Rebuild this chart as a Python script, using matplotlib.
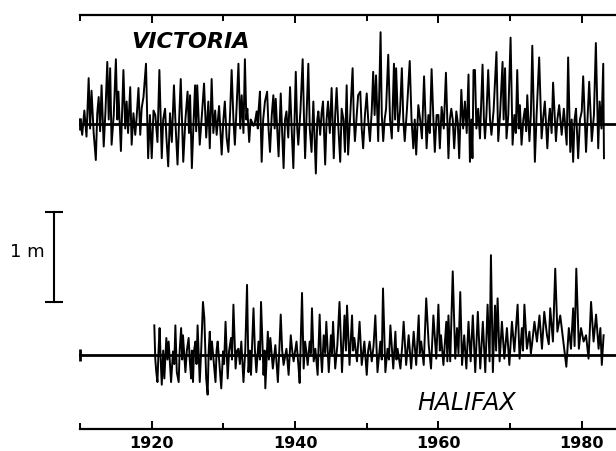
import matplotlib
matplotlib.use("Agg")
import matplotlib.pyplot as plt
import numpy as np

# monthly-ish sea level residuals (m)
vic_year = [
    1910.0, 1910.3, 1910.6, 1910.9, 1911.2, 1911.4, 1911.6, 1911.9, 1912.2, 1912.4,
    1912.6, 1912.8, 1913.0, 1913.3, 1913.55, 1913.8, 1914.0, 1914.2, 1914.4, 1914.7,
    1915.0, 1915.2, 1915.35, 1915.7, 1916.05, 1916.3, 1916.5, 1916.7, 1917.0, 1917.2,
    1917.45, 1917.7, 1917.9, 1918.15, 1918.4, 1918.6, 1918.85, 1919.2, 1919.5, 1919.75,
    1920.0, 1920.25, 1920.5, 1920.8, 1921.07, 1921.4, 1921.6, 1921.86, 1922.05, 1922.3,
    1922.55, 1922.8, 1923.1, 1923.35, 1923.6, 1923.85, 1924.05, 1924.4, 1924.7,
    1925.0, 1925.2, 1925.35, 1925.6, 1925.85, 1926.05, 1926.2, 1926.35, 1926.7, 1927.0,
    1927.3, 1927.6, 1927.9, 1928.1, 1928.36, 1928.6, 1928.85, 1929.06, 1929.4, 1929.76,
    1930.0, 1930.2, 1930.45, 1930.7, 1930.95, 1931.15, 1931.4, 1931.6, 1931.85, 1932.1,
    1932.35, 1932.55, 1932.8, 1933.0, 1933.2, 1933.34, 1933.6, 1933.8, 1934.0, 1934.2,
    1934.4, 1934.64, 1934.8, 1934.9,
    1935.1, 1935.34, 1935.55, 1935.8, 1936.1, 1936.3, 1936.5, 1936.75, 1936.97, 1937.15,
    1937.3, 1937.7, 1938.0, 1938.2, 1938.4, 1938.6, 1938.8, 1939.05, 1939.3, 1939.55,
    1939.76,
    1940.1, 1940.3, 1940.45, 1940.75, 1941.06, 1941.25, 1941.4, 1941.6, 1941.85, 1942.05,
    1942.3, 1942.55, 1942.9, 1943.1, 1943.25, 1943.5, 1943.7, 1943.9, 1944.2, 1944.4,
    1944.6, 1944.85,
    1945.1, 1945.4, 1945.6, 1945.8, 1946.05, 1946.3, 1946.5, 1946.75, 1946.96, 1947.2,
    1947.4, 1947.7, 1948.03, 1948.2, 1948.35, 1948.6, 1948.8, 1949.1, 1949.3, 1949.5,
    1949.75,
    1950.0, 1950.2, 1950.45, 1950.7, 1950.9, 1951.1, 1951.3, 1951.6, 1951.93, 1952.1,
    1952.3, 1952.5, 1952.7, 1953.0, 1953.25, 1953.5, 1953.8, 1953.95, 1954.1, 1954.4,
    1954.65, 1954.9,
    1955.1, 1955.3, 1955.6, 1956.0, 1956.25, 1956.5, 1956.7, 1956.9, 1957.2, 1957.45,
    1957.7, 1958.0, 1958.35, 1958.6, 1958.8, 1959.05, 1959.3, 1959.5, 1959.75,
    1960.0, 1960.2, 1960.45, 1960.75, 1961.05, 1961.4, 1961.6, 1961.8, 1962.0, 1962.2,
    1962.5, 1962.7, 1962.9, 1963.2, 1963.45, 1963.7, 1963.95, 1964.2, 1964.4, 1964.6,
    1964.75, 1964.9,
    1965.1, 1965.3, 1965.55, 1965.8, 1966.16, 1966.35, 1966.5, 1966.7, 1966.95, 1967.2,
    1967.4, 1967.7, 1968.1, 1968.35, 1968.6, 1968.95, 1969.1, 1969.3, 1969.5, 1969.75,
    1970.07, 1970.35, 1970.6, 1970.8, 1971.0, 1971.2, 1971.37, 1971.6, 1971.85, 1972.07,
    1972.25, 1972.4, 1972.7, 1972.9, 1973.1, 1973.46, 1973.7, 1974.06, 1974.4, 1974.6,
    1974.85,
    1975.2, 1975.4, 1975.55, 1975.8, 1976.0, 1976.4, 1976.6, 1976.85, 1977.2, 1977.5,
    1977.9, 1978.1, 1978.4, 1978.6, 1978.8, 1979.0, 1979.2, 1979.5, 1979.75, 1980.0,
    1980.2, 1980.6, 1980.8, 1981.04, 1981.4, 1981.7, 1981.97, 1982.3, 1982.5, 1982.75,
    1983.0, 1983.1,
]
vic_level = [
    0.05, -0.12, 0.15, -0.14, 0.51, -0.05, 0.37, -0.10, -0.40, 0.12,
    0.30, -0.08, 0.43, -0.25, 0.15, 0.69, 0.05, 0.62, -0.23, 0.10,
    0.72, 0.05, 0.36, -0.30, 0.60, -0.05, 0.25, -0.10, 0.41, -0.23,
    0.12, -0.12, 0.08, 0.40, -0.12, 0.18, 0.30, 0.67, -0.38, 0.10,
    -0.38, 0.15, 0.10, -0.20, 0.60, -0.38, 0.05, 0.17, -0.15, -0.47,
    0.12, -0.20, 0.43, -0.05, -0.45, 0.10, 0.50, -0.42, 0.05,
    0.36, -0.10, 0.32, -0.49, 0.05, 0.43, -0.08, 0.43, -0.23, 0.10,
    0.45, -0.15, 0.25, -0.27, 0.50, -0.10, 0.15, -0.12, 0.20, -0.34,
    0.05, 0.25, -0.15, -0.31, 0.15, 0.60, 0.05, -0.23, 0.20, 0.67,
    -0.05, 0.32, -0.10, 0.72, 0.05, 0.17, -0.20, 0.05, 0.02, -0.02,
    0.02, 0.14, -0.05, 0.14,
    0.36, -0.42, 0.05, 0.25, 0.36, -0.05, -0.31, 0.10, 0.32, -0.05,
    0.28, -0.36, 0.34, -0.10, -0.49, 0.05, 0.14, -0.15, 0.41, -0.10,
    -0.49,
    0.58, -0.05, -0.23, 0.15, 0.72, 0.05, -0.38, 0.10, 0.67, -0.05,
    -0.31, 0.25, -0.55, 0.05, 0.14, -0.12, 0.12, 0.25, -0.45, 0.05,
    0.25, -0.10,
    0.40, -0.38, 0.10, 0.40, -0.05, -0.42, 0.17, 0.05, -0.31, 0.43,
    -0.34, 0.10, 0.62, 0.05, -0.19, 0.10, 0.32, 0.36, -0.05, -0.27,
    0.10,
    0.34, 0.05, -0.19, 0.15, 0.58, 0.10, 0.54, -0.19, 1.02, 0.10,
    -0.19, 0.05, 0.17, 0.77, 0.05, -0.16, 0.67, 0.05, 0.62, -0.08,
    0.15, 0.62,
    0.05, -0.19, 0.15, 0.70, 0.05, -0.27, 0.05, -0.34, 0.21, 0.05,
    -0.16, 0.53, -0.27, 0.10, -0.10, 0.61, 0.05, -0.31, 0.10,
    0.10, -0.27, 0.19, -0.05, 0.57, -0.38, 0.05, 0.17, 0.05, -0.27,
    0.14, 0.02, -0.38, 0.38, -0.05, 0.25, -0.10, 0.55, -0.42, 0.05,
    -0.38, 0.60,
    0.60, -0.05, 0.17, -0.16, 0.66, 0.05, -0.16, 0.10, 0.60, 0.05,
    -0.12, 0.15, 0.80, -0.19, 0.10, 0.69, 0.05, 0.62, -0.16, 0.10,
    0.96, -0.23, 0.10, -0.10, 0.60, -0.05, 0.21, -0.23, 0.05, 0.17,
    -0.08, 0.32, -0.19, 0.10, 0.87, -0.42, 0.10, 0.74, -0.16, 0.05,
    0.25,
    -0.27, 0.05, 0.17, -0.10, 0.46, -0.19, 0.05, 0.21, -0.12, 0.17,
    -0.23, 0.74, -0.31, 0.05, -0.42, 0.05, 0.17, -0.38, 0.05, 0.14,
    0.53, -0.31, 0.05, 0.47, -0.19, 0.10, 0.90, -0.27, 0.25, -0.05,
    0.67, -0.38,
]

hal_year = [
    1920.36, 1920.5, 1920.64, 1920.8, 1920.95, 1921.1, 1921.25, 1921.4, 1921.6, 1921.76,
    1922.04, 1922.2, 1922.36, 1922.7, 1922.97, 1923.15, 1923.3, 1923.5, 1923.76, 1923.9,
    1924.1, 1924.25, 1924.36, 1924.7, 1924.9,
    1925.15, 1925.3, 1925.5, 1925.6, 1925.76, 1925.9, 1926.1, 1926.25, 1926.4, 1926.7,
    1926.9, 1927.15, 1927.34, 1927.6, 1927.8, 1927.95, 1928.1, 1928.25, 1928.4, 1928.9,
    1929.05, 1929.2, 1929.45, 1929.7, 1929.95,
    1930.1, 1930.3, 1930.6, 1930.8, 1931.06, 1931.2, 1931.4, 1931.7, 1931.9, 1932.1,
    1932.3, 1932.5, 1932.8, 1933.05, 1933.3, 1933.5, 1933.7, 1933.85, 1934.2, 1934.4,
    1934.6, 1934.9,
    1935.1, 1935.25, 1935.6, 1935.75, 1935.85, 1936.2, 1936.35, 1936.55, 1936.9, 1937.25,
    1937.6, 1937.8, 1938.0, 1938.2, 1938.4, 1938.8, 1939.1, 1939.4, 1939.6, 1939.8,
    1940.2, 1940.5, 1940.64, 1940.97, 1941.2, 1941.4, 1941.6, 1941.76, 1942.04, 1942.2,
    1942.36, 1942.6, 1942.83, 1943.15, 1943.43, 1943.6, 1943.76, 1944.0, 1944.2, 1944.36,
    1944.7,
    1945.0, 1945.15, 1945.3, 1945.6, 1945.9, 1946.2, 1946.55, 1946.9, 1947.1, 1947.25,
    1947.6, 1947.95, 1948.1, 1948.27, 1948.64, 1949.0, 1949.3, 1949.67,
    1950.0, 1950.2, 1950.4, 1950.7, 1950.95, 1951.2, 1951.5, 1951.9, 1952.1, 1952.27,
    1952.6, 1952.9, 1953.1, 1953.3, 1953.7, 1954.0, 1954.15, 1954.3, 1954.7, 1954.95,
    1955.15, 1955.5, 1955.85, 1956.2, 1956.55, 1956.9, 1957.25, 1957.4, 1957.6, 1957.95,
    1958.3, 1958.65, 1958.97, 1959.3, 1959.7,
    1960.0, 1960.2, 1960.36, 1960.7, 1961.1, 1961.25, 1961.4, 1961.65, 1962.0, 1962.35,
    1962.6, 1962.8, 1963.05, 1963.3, 1963.6, 1963.9, 1964.2, 1964.5, 1964.8,
    1965.14, 1965.5, 1965.84, 1966.2, 1966.54, 1966.86, 1967.14, 1967.33, 1967.6, 1967.9,
    1968.05, 1968.26, 1968.54, 1968.86, 1969.2, 1969.56, 1969.9,
    1970.26, 1970.6, 1971.05, 1971.33, 1971.65, 1971.8, 1972.0, 1972.35, 1972.7, 1972.9,
    1973.05, 1973.4, 1973.75, 1974.1, 1974.45, 1974.77,
    1975.15, 1975.4, 1975.6, 1975.98, 1976.3, 1976.6, 1977.0, 1977.5, 1977.85, 1978.2,
    1978.5, 1978.8, 1979.0, 1979.24, 1979.6, 1979.9, 1980.26, 1980.6, 1980.95, 1981.3,
    1981.65, 1982.0, 1982.35, 1982.6, 1982.8, 1983.05,
]
hal_level = [
    0.33, -0.05, -0.19, -0.30, 0.05, 0.30, -0.05, -0.33, 0.05, -0.26,
    0.19, -0.05, 0.15, -0.30, 0.04, -0.10, 0.33, -0.19, -0.30, 0.05,
    0.30, -0.05, 0.22, -0.19, 0.05,
    0.19, -0.05, -0.26, 0.05, -0.30, 0.05, 0.15, -0.10, 0.33, -0.30,
    0.05, 0.59, 0.41, -0.26, -0.44, 0.05, 0.26, -0.05, 0.15, -0.30,
    0.05, 0.15, -0.10, -0.37, 0.04,
    -0.10, 0.37, -0.26, 0.05, 0.19, -0.05, 0.56, -0.15, 0.05, 0.07,
    -0.10, 0.15, -0.30, 0.05, 0.78, -0.19, 0.05, -0.22, 0.52, 0.05,
    -0.19, 0.15,
    -0.05, 0.59, -0.22, 0.05, -0.37, 0.26, -0.05, 0.19, -0.15, 0.11,
    -0.30, 0.05, 0.45, 0.05, -0.11, 0.07, -0.22, 0.22, 0.05, -0.07,
    0.15, -0.15, -0.31, 0.69, -0.15, 0.15, 0.02, -0.11, 0.15, 0.02,
    0.52, -0.07, 0.07, -0.22, 0.45, 0.02, -0.19, 0.22, 0.02, 0.37,
    -0.19,
    0.22, 0.02, 0.37, -0.15, 0.11, 0.59, -0.19, 0.44, 0.05, 0.55,
    -0.11, 0.44, 0.05, 0.19, -0.07, 0.37, -0.11, 0.15,
    -0.22, 0.05, 0.15, -0.07, 0.10, 0.44, -0.19, 0.15, -0.05, 0.74,
    -0.19, 0.07, -0.05, 0.33, -0.15, 0.26, -0.05, 0.07, -0.15, 0.10,
    0.37, -0.11, 0.22, -0.15, 0.26, -0.11, 0.44, 0.02, 0.15, -0.11,
    0.63, 0.11, -0.15, 0.44, -0.04,
    0.56, 0.05, 0.22, -0.11, 0.37, -0.07, 0.44, -0.07, 0.93, -0.04,
    0.30, 0.02, 0.70, -0.11, 0.22, -0.15, 0.37, -0.07, 0.44,
    -0.19, 0.48, -0.15, 0.37, -0.19, 0.56, -0.07, 1.11, -0.19, 0.55,
    0.05, 0.63, -0.07, 0.37, -0.04, 0.30, -0.11,
    0.37, 0.04, 0.56, -0.04, 0.30, 0.05, 0.56, 0.07, 0.26, 0.02,
    0.11, 0.37, 0.15, 0.44, 0.07, 0.48,
    0.22, 0.12, 0.52, 0.15, 0.96, 0.26, 0.44, 0.11, -0.13, 0.30,
    0.07, 0.52, 0.10, 0.96, 0.07, 0.30, 0.15, 0.22, -0.04, 0.59,
    0.15, 0.45, 0.07, 0.30, -0.11, 0.22,
]

hal_offset = -2.567   # Halifax trace drawn below Victoria
year_ticks = [1920, 1940, 1960, 1980]
minor_ticks = [1910, 1930, 1950, 1970]

fig = plt.figure(figsize=(6.16, 4.51), dpi=100)
ax = fig.add_axes([0, 0, 1, 1])
ax.set_xlim(1898.83, 1984.78)
ax.set_ylim(-3.633, 1.378)

ax.plot(vic_year, vic_level, color='black', lw=1.4)
ax.plot(hal_year, np.array(hal_level) + hal_offset, color='black', lw=1.4)

# zero lines with end ticks
for y0 in (0, hal_offset):
    ax.plot([1910, 1985], [y0, y0], color='black', lw=2.0,
            marker='|', markersize=9, markeredgewidth=2.0, clip_on=False)

# 1 m scale bar
ax.plot([1906.4, 1906.4], [-0.978, -1.978], color='black', lw=1.5,
        marker='_', markersize=13, markeredgewidth=1.5)
ax.text(1902.6, -1.42, '1 m', fontsize=13, ha='center', va='center')

ax.text(1925.4, 0.91, 'VICTORIA', fontsize=16, fontweight='bold',
        fontstyle='italic', ha='center', va='center')
ax.text(1964.0, -3.10, 'HALIFAX', fontsize=17, fontstyle='italic',
        ha='center', va='center')

# time axes at top and bottom
for side in ('left', 'right'):
    ax.spines[side].set_visible(False)
ax.spines['top'].set_position(('data', 1.211))
ax.spines['bottom'].set_position(('data', -3.389))
for side in ('top', 'bottom'):
    ax.spines[side].set_bounds(1910, 1985)
    ax.spines[side].set_linewidth(1.6)

ax.set_xticks(year_ticks)
ax.set_xticks(minor_ticks, minor=True)
ax.set_xticklabels([str(y) for y in year_ticks], fontweight='bold', fontsize=11.5)
ax.tick_params(axis='x', which='both', direction='in', top=True, bottom=True,
               labeltop=False, width=1.4, pad=5)
ax.tick_params(axis='x', which='major', length=6)
ax.tick_params(axis='x', which='minor', length=4.3)
ax.set_yticks([])

fig.savefig('out.png', dpi=100)
